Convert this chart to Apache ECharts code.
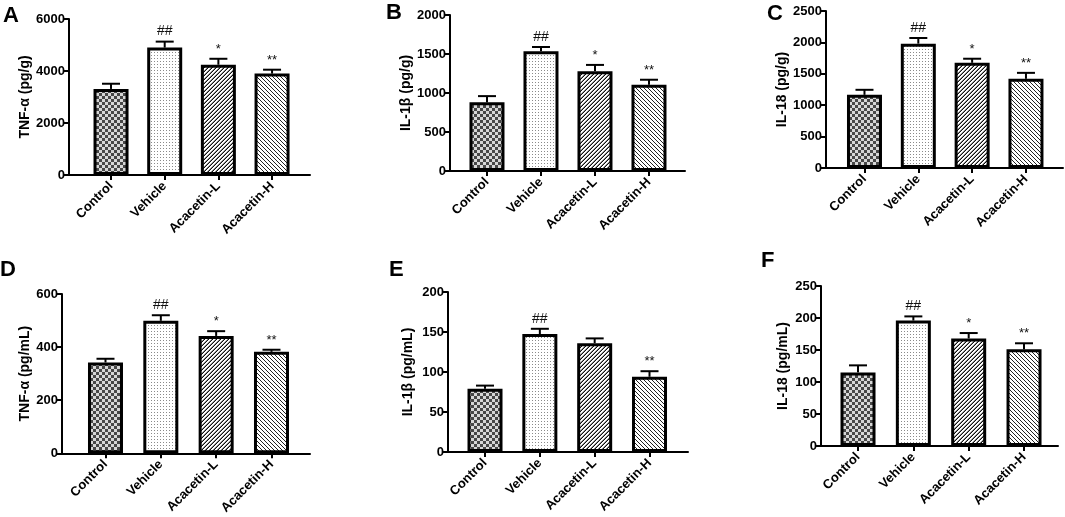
<!DOCTYPE html>
<html>
<head>
<meta charset="utf-8">
<script src="https://cdn.jsdelivr.net/npm/echarts@6/dist/echarts.min.js"></script>
<style>
html,body{margin:0;padding:0;background:#fff;}
#chart{width:1065px;height:517px;}
</style>
</head>
<body>
<div id="chart"></div>
<script>
// ---------- data ----------
const categories = ['Control', 'Vehicle', 'Acacetin-L', 'Acacetin-H'];

const tnfTissueMean = [3310, 4900, 4240, 3900];
const tnfTissueErr  = [200, 230, 230, 150];
const il1bTissueMean = [880, 1535, 1280, 1105];
const il1bTissueErr  = [80, 55, 80, 65];
const il18TissueMean = [1165, 1980, 1675, 1420];
const il18TissueErr  = [80, 90, 65, 95];
const tnfSerumMean = [342, 499, 442, 382];
const tnfSerumErr  = [14, 21, 18, 8];
const il1bSerumMean = [79, 147.5, 136, 94];
const il1bSerumErr  = [4, 6.5, 6, 7];
const il18SerumMean = [115, 196, 168, 151];
const il18SerumErr  = [11, 6.5, 8.5, 9.5];

const sigMain = ['', '##', '*', '**'];
const sigE    = ['', '##', '', '**'];

const panelLetters = ['A', 'B', 'C', 'D', 'E', 'F'];
const yTitles = ['TNF-α (pg/g)', 'IL-1β (pg/g)', 'IL-18 (pg/g)', 'TNF-α (pg/mL)', 'IL-1β (pg/mL)', 'IL-18 (pg/mL)'];
const yMax = [6000, 2000, 2500, 600, 200, 250];
const yInterval = [2000, 500, 500, 200, 50, 50];

// ---------- layout (pixels) ----------
const layout = [
  {left: 69,  top: 19,  w: 241, h: 156, xmin: -0.783, xmax: 3.707, gap: 27, lx: 3,   ly: 5},
  {left: 450, top: 15,  w: 235, h: 156, xmin: -0.685, xmax: 3.667, gap: 37, lx: 386, ly: 2},
  {left: 826, top: 11,  w: 237, h: 157, xmin: -0.715, xmax: 3.688, gap: 34, lx: 767, ly: 3},
  {left: 62,  top: 294, w: 248, h: 160, xmin: -0.786, xmax: 3.696, gap: 21, lx: 0,   ly: 259},
  {left: 448, top: 292, w: 240, h: 160, xmin: -0.675, xmax: 3.702, gap: 33, lx: 389, ly: 259},
  {left: 821, top: 286, w: 237, h: 160, xmin: -0.669, xmax: 3.614, gap: 31, lx: 761, ly: 250}
];

const panels = [
  [tnfTissueMean, tnfTissueErr, sigMain],
  [il1bTissueMean, il1bTissueErr, sigMain],
  [il18TissueMean, il18TissueErr, sigMain],
  [tnfSerumMean, tnfSerumErr, sigMain],
  [il1bSerumMean, il1bSerumErr, sigE],
  [il18SerumMean, il18SerumErr, sigMain]
];

// ---------- patterns ----------
function makeTile(size, painter) {
  const c = document.createElement('canvas');
  c.width = size; c.height = size;
  const ctx = c.getContext('2d');
  ctx.fillStyle = '#fff';
  ctx.fillRect(0, 0, size, size);
  for (let y = 0; y < size; y++) {
    for (let x = 0; x < size; x++) {
      const col = painter(x, y);
      if (col) { ctx.fillStyle = col; ctx.fillRect(x, y, 1, 1); }
    }
  }
  return {image: c, repeat: 'repeat'};
}
const patChecker = makeTile(6, (x, y) => ((Math.floor(x / 3) + Math.floor(y / 3)) % 2 === 0 ? '#474747' : '#d6d6d6'));
const patDots = makeTile(3, (x, y) => (x === 1 && y === 1 ? '#8a8a8a' : null));
const patFwd = makeTile(4, (x, y) => {
  const d = (x + y) % 4;
  return d === 3 ? '#111' : (d === 2 ? '#8c8c8c' : null);
});
const patBack = makeTile(4, (x, y) => (((x - y) % 4 + 4) % 4 === 0 ? '#222' : null));
const patterns = [patChecker, patDots, patFwd, patBack];

// ---------- option ----------
const FONT = 'Liberation Sans';
const grid = [], xAxis = [], yAxis = [], series = [], graphic = [];

layout.forEach((L, k) => {
  grid.push({left: L.left, top: L.top, width: L.w, height: L.h, containLabel: false});
  xAxis.push({
    type: 'value', gridIndex: k, min: L.xmin, max: L.xmax,
    splitLine: {show: false},
    axisLine: {show: true, onZero: false, lineStyle: {color: '#000', width: 2}},
    axisTick: {show: true, customValues: [0, 1, 2, 3], length: 5, lineStyle: {color: '#000', width: 2}},
    axisLabel: {
      show: true, customValues: [0, 1, 2, 3], rotate: 45, margin: 9,
      formatter: v => categories[Math.round(v)] || '',
      color: '#000', fontFamily: FONT, fontWeight: 'bold', fontSize: 13
    }
  });
  yAxis.push({
    type: 'value', gridIndex: k, min: 0, max: yMax[k], interval: yInterval[k],
    name: yTitles[k], nameLocation: 'middle', nameGap: L.gap, nameRotate: 90,
    nameTextStyle: {color: '#000', fontFamily: FONT, fontWeight: 'bold', fontSize: 14},
    splitLine: {show: false},
    axisLine: {show: true, onZero: false, lineStyle: {color: '#000', width: 2}},
    axisTick: {show: true, length: 5, lineStyle: {color: '#000', width: 2}},
    axisLabel: {color: '#000', fontFamily: FONT, fontWeight: 'bold', fontSize: 13, margin: 4,
      formatter: v => String(v)}
  });

  const [means, errs, sig] = panels[k];
  series.push({
    type: 'custom', xAxisIndex: k, yAxisIndex: k, z: 1, silent: true,
    data: means.map((m, i) => [i, m, m + errs[i]]),
    renderItem: (params, api) => {
      const p0 = api.coord([api.value(0), api.value(1)]);
      const p1 = api.coord([api.value(0), api.value(2)]);
      const children = [
        {type: 'line', shape: {x1: p0[0], y1: p0[1], x2: p1[0], y2: p1[1]}, style: {stroke: '#000', lineWidth: 2}},
        {type: 'line', shape: {x1: p1[0] - 9, y1: p1[1], x2: p1[0] + 9, y2: p1[1]}, style: {stroke: '#000', lineWidth: 2}}
      ];
      const t = sig[params.dataIndex];
      if (t) {
        children.push({type: 'text', style: {
          text: t, x: p1[0], y: p1[1] - 3, align: 'center', verticalAlign: 'bottom',
          font: (t === '##' ? '14px ' : '13px ') + FONT, fill: '#111'
        }});
      }
      return {type: 'group', children};
    }
  });
  series.push({
    type: 'bar', xAxisIndex: k, yAxisIndex: k, z: 2, barWidth: 35, silent: true,
    data: means.map((m, i) => ({
      value: [i, m],
      itemStyle: {color: patterns[i], borderColor: '#000', borderWidth: 3}
    }))
  });
  graphic.push({
    type: 'text', left: L.lx, top: L.ly,
    style: {text: panelLetters[k], font: 'bold 22px ' + FONT, fill: '#000'}
  });
});

const chart = echarts.init(document.getElementById('chart'), null, {renderer: 'canvas'});
chart.setOption({
  animation: false,
  backgroundColor: '#fff',
  grid, xAxis, yAxis, series, graphic
});
</script>
</body>
</html>
